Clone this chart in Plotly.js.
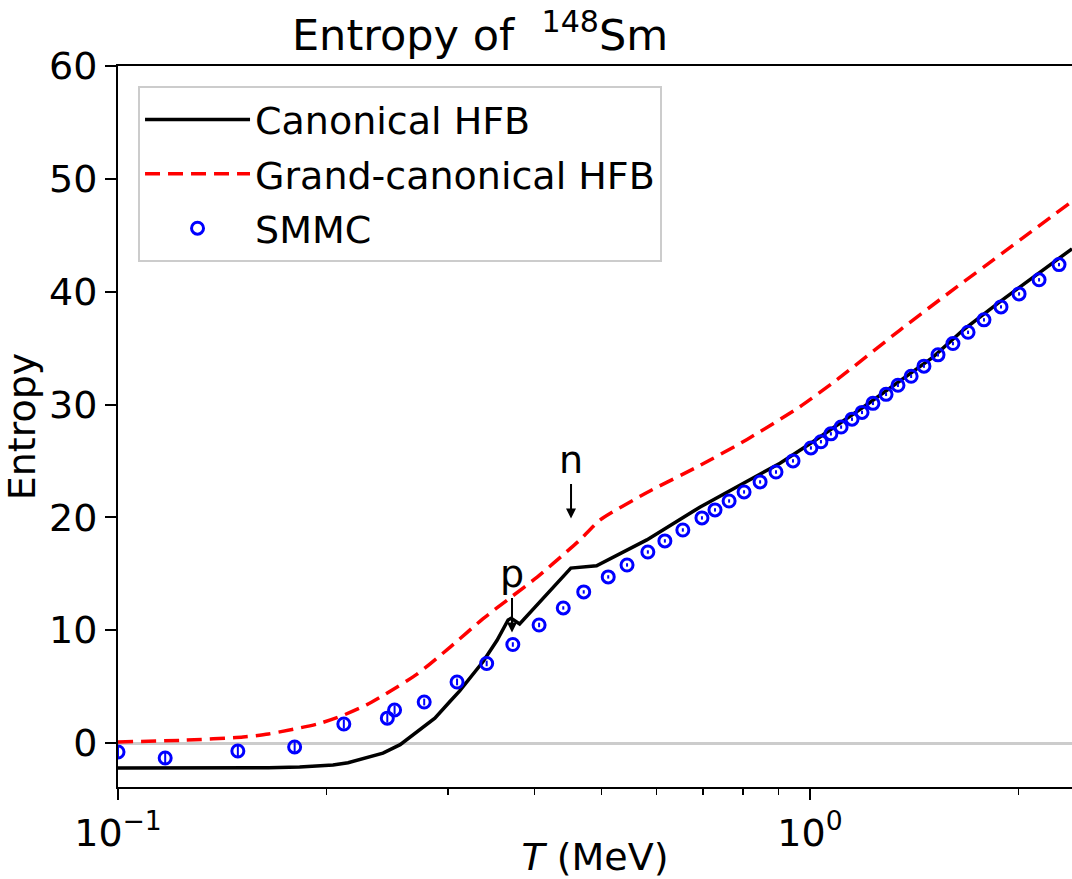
<!DOCTYPE html>
<html>
<head>
<meta charset="utf-8">
<script src="https://cdn.plot.ly/plotly-3.0.1.min.js"></script>
<style>html,body{margin:0;padding:0;background:#fff;}#chart{width:1072px;height:879px;}</style>
</head>
<body>
<div id="chart"></div>
<script>
// Canonical HFB (black solid)
const T_can = [0.100, 0.140, 0.165, 0.183, 0.195, 0.2045, 0.215, 0.229, 0.2415, 0.2557, 0.2705, 0.287, 0.302, 0.3115, 0.3368, 0.353, 0.3662, 0.370, 0.3805, 0.4512, 0.4915, 0.581, 0.693, 0.905, 1.01, 1.209, 1.506, 1.664, 1.88, 2.391];
const S_can = [-2.22, -2.22, -2.2, -2.13, -2.05, -1.95, -1.75, -1.33, -0.9, -0.15, 1.0, 2.2, 3.7, 4.6, 7.2, 9.1, 10.9, 11.05, 10.55, 15.5, 15.7, 18.0, 20.9, 24.8, 26.7, 30.0, 34.2, 36.6, 39.1, 43.8];

// Grand-canonical HFB (red dashed)
const T_gc = [0.100, 0.125, 0.1516, 0.165, 0.1946, 0.2114, 0.229, 0.2415, 0.2705, 0.302, 0.3367, 0.3684, 0.4034, 0.4498, 0.4652, 0.4975, 0.5814, 0.6935, 0.811, 0.967, 1.094, 1.349, 1.541, 2.391];
const S_gc = [0.09, 0.25, 0.53, 0.8, 1.7, 2.45, 3.4, 4.2, 6.1, 8.5, 11.0, 12.85, 14.7, 17.2, 18.0, 19.77, 22.2, 24.6, 26.9, 29.8, 32.2, 36.6, 39.3, 48.0];

// SMMC (blue open circles with error bars)
const T_smmc = [0.100, 0.117, 0.149, 0.180, 0.212, 0.245, 0.251, 0.277, 0.309, 0.341, 0.372, 0.406, 0.440, 0.471, 0.511, 0.544, 0.583, 0.617, 0.655, 0.698, 0.729, 0.764, 0.803, 0.847, 0.893, 0.945, 1.003, 1.037, 1.072, 1.109, 1.150, 1.189, 1.233, 1.288, 1.340, 1.400, 1.461, 1.531, 1.609, 1.692, 1.784, 1.888, 2.005, 2.143, 2.29];
const S_smmc = [-0.80, -1.33, -0.71, -0.35, 1.68, 2.2, 2.93, 3.63, 5.41, 7.05, 8.73, 10.46, 11.97, 13.39, 14.72, 15.78, 16.93, 17.91, 18.88, 19.95, 20.66, 21.45, 22.25, 23.14, 24.02, 25.0, 26.15, 26.7, 27.4, 28.0, 28.7, 29.3, 30.1, 30.9, 31.7, 32.5, 33.4, 34.4, 35.4, 36.4, 37.5, 38.65, 39.8, 41.05, 42.4];
const E_smmc = [0.5, 0.5, 0.5, 0.5, 0.4, 0.4, 0.4, 0.3, 0.3, 0.25, 0.2, 0.2, 0.15, 0.15, 0.15, 0.15, 0.15, 0.15, 0.15, 0.15, 0.15, 0.15, 0.15, 0.15, 0.15, 0.15, 0.15, 0.15, 0.15, 0.15, 0.15, 0.15, 0.15, 0.15, 0.15, 0.15, 0.15, 0.15, 0.15, 0.15, 0.15, 0.15, 0.15, 0.15, 0.15];

// tick labels
const xTickVals = [0.1, 1];
const xTickText = ['10<sup>\u22121</sup>', '10<sup>0</sup>'];
const xMinorVals = [0.2, 0.3, 0.4, 0.5, 0.6, 0.7, 0.8, 0.9, 2];
const yTickVals = [0, 10, 20, 30, 40, 50, 60];

const FONT = 'DejaVu Sans, sans-serif';
const FS = 38;

const traces = [
  {x: T_can, y: S_can, type: 'scatter', mode: 'lines', name: 'Canonical HFB', legendgroup: 'a',
   line: {color: '#000000', width: 3.5}},
  {x: T_gc, y: S_gc, type: 'scatter', mode: 'lines', name: 'Grand-canonical HFB', legendgroup: 'b',
   line: {color: '#ff0000', width: 3.5, dash: '15px,8px', shape: 'spline', smoothing: 0.6}},
  {x: T_smmc, y: S_smmc, type: 'scatter', mode: 'markers', name: 'SMMC', legendgroup: 'c',
   marker: {symbol: 'circle-open', size: 12, color: '#0000ff', line: {width: 3, color: '#0000ff'}},
   error_y: {type: 'data', array: E_smmc, visible: true, color: '#0000ff', thickness: 2, width: 0}}
];

const layout = {
  width: 1072, height: 879,
  margin: {l: 118, r: 0, t: 66, b: 92},
  paper_bgcolor: '#ffffff', plot_bgcolor: '#ffffff',
  font: {family: FONT, size: FS, color: '#000000'},
  showlegend: true,
  title: {text: 'Entropy of&nbsp; <sup>148</sup>Sm', font: {family: FONT, size: 43, color: '#000'},
          x: 0.3795, xref: 'paper', xanchor: 'center', y: 0.96, yref: 'container', yanchor: 'middle'},
  xaxis: {type: 'log', range: [-1, 0.3786], tickmode: 'array', tickvals: xTickVals, ticktext: xTickText,
          ticks: 'outside', ticklen: 11, tickwidth: 2, tickcolor: '#000',
          showline: true, linecolor: '#000', linewidth: 2, mirror: true,
          showgrid: false, zeroline: false,
          tickfont: {family: FONT, size: FS, color: '#000'},
          minor: {tickmode: 'array', tickvals: xMinorVals, ticks: 'outside', ticklen: 6, tickwidth: 1.5, tickcolor: '#000', showgrid: false},
          title: {text: '<i>T</i> (MeV)', font: {family: FONT, size: FS, color: '#000'}, standoff: 4}},
  yaxis: {range: [-3.9, 60], tickmode: 'array', tickvals: yTickVals,
          ticks: 'outside', ticklen: 11, tickwidth: 2, tickcolor: '#000',
          showline: true, linecolor: '#000', linewidth: 2, mirror: false,
          showgrid: false, zeroline: true, zerolinecolor: '#cccccc', zerolinewidth: 3,
          tickfont: {family: FONT, size: FS, color: '#000'},
          title: {text: 'Entropy', font: {family: FONT, size: FS, color: '#000'}, standoff: 6}},
  legend: {x: 0.021, y: 0.972, xanchor: 'left', yanchor: 'top',
           bgcolor: 'rgba(255,255,255,0.85)', bordercolor: '#cccccc', borderwidth: 2,
           font: {family: FONT, size: FS, color: '#000'}, itemwidth: 105, tracegroupgap: 2,
           traceorder: 'grouped'},
  annotations: [
    {x: Math.log10(0.371), y: 9.8, xref: 'x', yref: 'y', text: 'p', showarrow: true,
     ax: 0, ay: -58, arrowhead: 2, arrowsize: 1, arrowwidth: 2, arrowcolor: '#000', standoff: 0,
     font: {family: FONT, size: FS, color: '#000'}},
    {x: Math.log10(0.4515), y: 19.9, xref: 'x', yref: 'y', text: 'n', showarrow: true,
     ax: 0, ay: -58, arrowhead: 2, arrowsize: 1, arrowwidth: 2, arrowcolor: '#000', standoff: 0,
     font: {family: FONT, size: FS, color: '#000'}}
  ]
};

Plotly.newPlot('chart', traces, layout, {displayModeBar: false, staticPlot: true});
</script>
</body>
</html>
